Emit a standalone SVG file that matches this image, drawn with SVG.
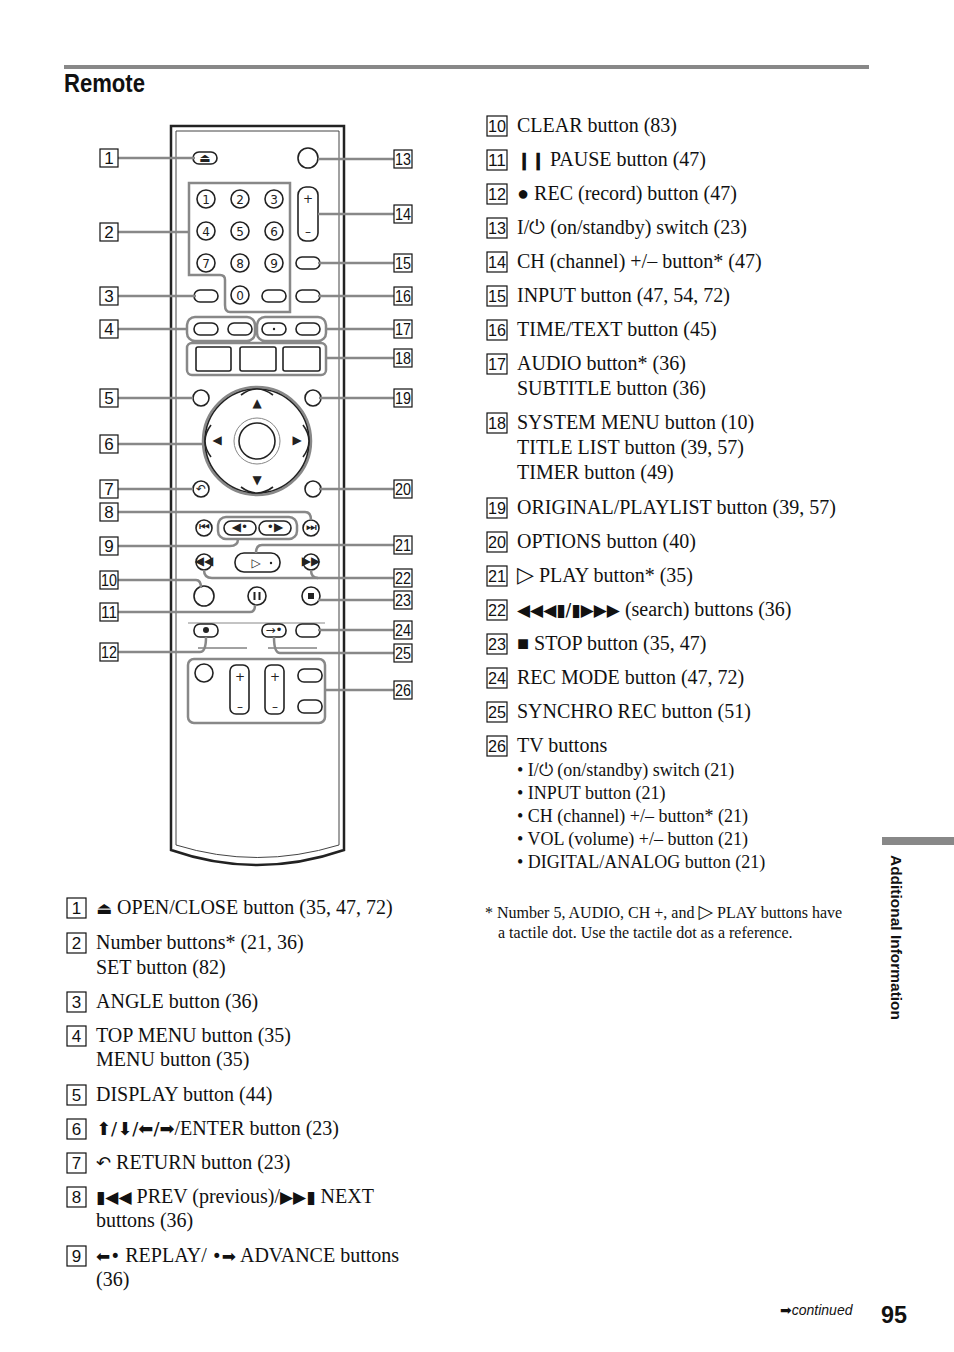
<svg xmlns="http://www.w3.org/2000/svg" width="954" height="1352" viewBox="0 0 954 1352">
<style>
.t{font-family:"Liberation Serif",serif;font-size:20px;fill:#111}
.s{font-family:"Liberation Serif",serif;font-size:18px;fill:#111}
.f{font-family:"Liberation Serif",serif;font-size:16px;fill:#111}
.nb{fill:#fff;stroke:#111;stroke-width:1.2}
.nt{font-family:"Liberation Sans",sans-serif;font-size:17px;fill:#111;text-anchor:middle}
.b{fill:#fff;stroke:#222;stroke-width:1.6}
.g{fill:none;stroke:#888;stroke-width:2.5}
.l{fill:none;stroke:#888;stroke-width:2.5}
.d{font-family:"DejaVu Sans",sans-serif;font-size:12px;fill:#222;text-anchor:middle}
</style>
<rect x="64" y="65" width="805" height="4" fill="#888"/>
<text x="64" y="92" font-family="Liberation Sans,sans-serif" font-weight="bold" font-size="25" fill="#111" textLength="81" lengthAdjust="spacingAndGlyphs">Remote</text>

<g id="remote">
<path d="M171,126 H344 V850 Q257,880 171,850 Z" fill="#fff" stroke="#222" stroke-width="2.5"/>
<path d="M176,131 H339 V845 Q257,870 176,845 Z" fill="none" stroke="#444" stroke-width="1"/>
<rect x="193" y="152" width="24" height="12" rx="6" class="b"/><text x="205" y="162" class="d" font-size="9">⏏</text>
<circle cx="308" cy="158" r="10" class="b"/>
<path d="M189,183 H290 V312 H230 Q225,312 225,305 V280 Q225,275 220,275 H189 Z" class="g"/>
<g class="d" font-size="13">
<circle cx="206" cy="199" r="9" class="b"/><text x="206" y="204">1</text>
<circle cx="240" cy="199" r="9" class="b"/><text x="240" y="204">2</text>
<circle cx="274" cy="199" r="9" class="b"/><text x="274" y="204">3</text>
<circle cx="206" cy="231" r="9" class="b"/><text x="206" y="236">4</text>
<circle cx="240" cy="231" r="9" class="b"/><text x="240" y="236">5</text>
<circle cx="274" cy="231" r="9" class="b"/><text x="274" y="236">6</text>
<circle cx="206" cy="263" r="9" class="b"/><text x="206" y="268">7</text>
<circle cx="240" cy="263" r="9" class="b"/><text x="240" y="268">8</text>
<circle cx="274" cy="263" r="9" class="b"/><text x="274" y="268">9</text>
<circle cx="240" cy="295" r="9" class="b"/><text x="240" y="300">0</text>
</g>
<rect x="298" y="187" width="20" height="54" rx="8" class="b"/>
<text x="308" y="203" class="d" font-size="14">+</text><text x="308" y="236" class="d" font-size="14">–</text>
<rect x="296" y="257" width="24" height="12" rx="6" class="b"/>
<rect x="296" y="290" width="24" height="12" rx="6" class="b"/>
<rect x="194" y="290" width="24" height="12" rx="6" class="b"/>
<rect x="262" y="290" width="24" height="12" rx="6" class="b"/>
<rect x="187" y="317" width="68" height="24" rx="8" class="g"/>
<rect x="257" y="317" width="69" height="24" rx="8" class="g"/>
<rect x="194" y="323" width="24" height="12" rx="6" class="b"/>
<rect x="228" y="323" width="24" height="12" rx="6" class="b"/>
<rect x="262" y="323" width="24" height="12" rx="6" class="b"/><circle cx="274" cy="329" r="1.2" fill="#222"/>
<rect x="296" y="323" width="24" height="12" rx="6" class="b"/>
<rect x="187" y="343" width="139" height="32" rx="5" class="g"/>
<rect x="196" y="347" width="35" height="24" rx="2" class="b"/>
<rect x="240" y="347" width="36" height="24" rx="2" class="b"/>
<rect x="283" y="347" width="37" height="24" rx="2" class="b"/>
<circle cx="201" cy="398" r="8" class="b"/>
<circle cx="313" cy="398" r="8" class="b"/>
<circle cx="257" cy="441" r="54" class="g"/>
<circle cx="257" cy="441" r="52" class="b"/>
<circle cx="257" cy="441" r="23" fill="none" stroke="#888" stroke-width="1"/>
<circle cx="257" cy="441" r="18" class="b"/>
<path d="M241,395 Q257,383 273,395" class="b"/><text x="257" y="407" class="d" font-size="8">▲</text>
<path d="M241,487 Q257,499 273,487" class="b"/><text x="257" y="484" class="d" font-size="8">▼</text>
<path d="M211,425 Q199,441 211,457" class="b"/><text x="217" y="444" class="d" font-size="8">◀</text>
<path d="M303,425 Q315,441 303,457" class="b"/><text x="297" y="444" class="d" font-size="8">▶</text>
<circle cx="201" cy="489" r="8" class="b"/><text x="201" y="493" class="d" font-size="10">↶</text>
<circle cx="313" cy="489" r="8" class="b"/>
<circle cx="204" cy="528" r="8" class="b"/><text x="204" y="531" class="d" font-size="7">⏮</text>
<circle cx="311" cy="528" r="8" class="b"/><text x="311" y="531" class="d" font-size="7">⏭</text>
<rect x="218" y="517" width="79" height="22" rx="8" class="g"/>
<rect x="224" y="521" width="32" height="14" rx="7" class="b"/><text x="240" y="531" class="d" font-size="8">◀•</text>
<rect x="259" y="521" width="32" height="14" rx="7" class="b"/><text x="275" y="531" class="d" font-size="8">•▶</text>
<rect x="235" y="553" width="45" height="19" rx="9" class="b"/><text x="256" y="567" class="d" font-size="13">▷</text><circle cx="271" cy="563" r="1.2" fill="#222"/>
<circle cx="204" cy="562" r="8" class="b"/><text x="204" y="565" class="d" font-size="7">◀◀</text>
<circle cx="311" cy="562" r="8" class="b"/><text x="311" y="565" class="d" font-size="7">▶▶</text>
<circle cx="204" cy="596" r="10" class="b"/>
<circle cx="257" cy="596" r="9" class="b"/><rect x="253.5" y="592" width="2" height="8" fill="#222"/><rect x="258.5" y="592" width="2" height="8" fill="#222"/>
<circle cx="311" cy="596" r="9" class="b"/><rect x="308" y="593" width="6" height="6" fill="#222"/>
<line x1="188" y1="623" x2="325" y2="623" stroke="#888" stroke-width="1"/>
<rect x="194" y="624" width="24" height="13" rx="6" class="b"/><circle cx="206" cy="630" r="3" fill="#222"/>
<rect x="262" y="624" width="24" height="13" rx="6" class="b"/><text x="274" y="634" class="d" font-size="9">→•</text>
<rect x="296" y="624" width="24" height="13" rx="6" class="b"/>
<line x1="198" y1="648" x2="247" y2="648" stroke="#444" stroke-width="1"/>
<line x1="268" y1="648" x2="317" y2="648" stroke="#444" stroke-width="1"/>
<rect x="188" y="659" width="137" height="64" rx="6" class="g"/>
<circle cx="204" cy="673" r="9" class="b"/>
<rect x="230" y="665" width="19" height="49" rx="6" class="b"/><text x="240" y="681" class="d" font-size="14">+</text><text x="240" y="711" class="d" font-size="14">–</text>
<rect x="265" y="665" width="19" height="49" rx="6" class="b"/><text x="275" y="681" class="d" font-size="14">+</text><text x="275" y="711" class="d" font-size="14">–</text>
<rect x="298" y="669" width="24" height="13" rx="6" class="b"/>
<rect x="298" y="700" width="24" height="13" rx="6" class="b"/>
</g>

<g id="connectors" class="l">
<line x1="118" y1="158" x2="195" y2="158"/>
<line x1="118" y1="232" x2="189" y2="232"/>
<line x1="118" y1="296" x2="196" y2="296"/>
<line x1="118" y1="329" x2="187" y2="329"/>
<line x1="118" y1="398" x2="193" y2="398"/>
<line x1="118" y1="444" x2="203" y2="444"/>
<line x1="118" y1="489" x2="193" y2="489"/>
<path d="M118,512 H305 Q311,512 311,520"/>
<path d="M118,546 H230 Q238,546 238,539"/>
<path d="M118,580 H196 Q201,580 201,588"/>
<path d="M118,612 H250 Q255,612 255,605"/>
<path d="M118,652 H200 Q206,652 206,637"/>
<line x1="318" y1="159" x2="394" y2="159"/>
<line x1="318" y1="214" x2="394" y2="214"/>
<line x1="318" y1="263" x2="394" y2="263"/>
<line x1="318" y1="296" x2="394" y2="296"/>
<line x1="326" y1="329" x2="394" y2="329"/>
<line x1="326" y1="358" x2="394" y2="358"/>
<line x1="319" y1="398" x2="394" y2="398"/>
<line x1="319" y1="489" x2="394" y2="489"/>
<path d="M394,545 H262 Q256,545 256,553"/>
<path d="M394,578 H212 Q204,578 204,570"/>
<path d="M311,570 Q311,578 318,578"/>
<line x1="318" y1="600" x2="394" y2="600"/>
<line x1="318" y1="630" x2="394" y2="630"/>
<path d="M394,653 H280 Q274,653 274,637"/>
<line x1="325" y1="690" x2="394" y2="690"/>
</g>

<g id="labels">
<rect x="100" y="149" width="18" height="18" class="nb"/><text x="109" y="164" class="nt">1</text>
<rect x="100" y="223" width="18" height="18" class="nb"/><text x="109" y="238" class="nt">2</text>
<rect x="100" y="287" width="18" height="18" class="nb"/><text x="109" y="302" class="nt">3</text>
<rect x="100" y="320" width="18" height="18" class="nb"/><text x="109" y="335" class="nt">4</text>
<rect x="100" y="389" width="18" height="18" class="nb"/><text x="109" y="404" class="nt">5</text>
<rect x="100" y="435" width="18" height="18" class="nb"/><text x="109" y="450" class="nt">6</text>
<rect x="100" y="480" width="18" height="18" class="nb"/><text x="109" y="495" class="nt">7</text>
<rect x="100" y="503" width="18" height="18" class="nb"/><text x="109" y="518" class="nt">8</text>
<rect x="100" y="537" width="18" height="18" class="nb"/><text x="109" y="552" class="nt">9</text>
<rect x="100" y="571" width="18" height="18" class="nb"/><text x="109" y="586" class="nt" textLength="16" lengthAdjust="spacingAndGlyphs">10</text>
<rect x="100" y="603" width="18" height="18" class="nb"/><text x="109" y="618" class="nt" textLength="16" lengthAdjust="spacingAndGlyphs">11</text>
<rect x="100" y="643" width="18" height="18" class="nb"/><text x="109" y="658" class="nt" textLength="16" lengthAdjust="spacingAndGlyphs">12</text>
<g class="nt">
<rect x="394" y="150" width="18" height="18" class="nb"/><text x="403" y="165" textLength="16" lengthAdjust="spacingAndGlyphs">13</text>
<rect x="394" y="205" width="18" height="18" class="nb"/><text x="403" y="220" textLength="16" lengthAdjust="spacingAndGlyphs">14</text>
<rect x="394" y="254" width="18" height="18" class="nb"/><text x="403" y="269" textLength="16" lengthAdjust="spacingAndGlyphs">15</text>
<rect x="394" y="287" width="18" height="18" class="nb"/><text x="403" y="302" textLength="16" lengthAdjust="spacingAndGlyphs">16</text>
<rect x="394" y="320" width="18" height="18" class="nb"/><text x="403" y="335" textLength="16" lengthAdjust="spacingAndGlyphs">17</text>
<rect x="394" y="349" width="18" height="18" class="nb"/><text x="403" y="364" textLength="16" lengthAdjust="spacingAndGlyphs">18</text>
<rect x="394" y="389" width="18" height="18" class="nb"/><text x="403" y="404" textLength="16" lengthAdjust="spacingAndGlyphs">19</text>
<rect x="394" y="480" width="18" height="18" class="nb"/><text x="403" y="495" textLength="16" lengthAdjust="spacingAndGlyphs">20</text>
<rect x="394" y="536" width="18" height="18" class="nb"/><text x="403" y="551" textLength="16" lengthAdjust="spacingAndGlyphs">21</text>
<rect x="394" y="569" width="18" height="18" class="nb"/><text x="403" y="584" textLength="16" lengthAdjust="spacingAndGlyphs">22</text>
<rect x="394" y="591" width="18" height="18" class="nb"/><text x="403" y="606" textLength="16" lengthAdjust="spacingAndGlyphs">23</text>
<rect x="394" y="621" width="18" height="18" class="nb"/><text x="403" y="636" textLength="16" lengthAdjust="spacingAndGlyphs">24</text>
<rect x="394" y="644" width="18" height="18" class="nb"/><text x="403" y="659" textLength="16" lengthAdjust="spacingAndGlyphs">25</text>
<rect x="394" y="681" width="18" height="18" class="nb"/><text x="403" y="696" textLength="16" lengthAdjust="spacingAndGlyphs">26</text>
</g>
</g>

<g id="right-list">
<g class="nt">
<rect x="487" y="116" width="20" height="20" class="nb"/><text x="497" y="132" textLength="18" lengthAdjust="spacingAndGlyphs">10</text>
<rect x="487" y="150" width="20" height="20" class="nb"/><text x="497" y="166" textLength="18" lengthAdjust="spacingAndGlyphs">11</text>
<rect x="487" y="184" width="20" height="20" class="nb"/><text x="497" y="200" textLength="18" lengthAdjust="spacingAndGlyphs">12</text>
<rect x="487" y="218" width="20" height="20" class="nb"/><text x="497" y="234" textLength="18" lengthAdjust="spacingAndGlyphs">13</text>
<rect x="487" y="252" width="20" height="20" class="nb"/><text x="497" y="268" textLength="18" lengthAdjust="spacingAndGlyphs">14</text>
<rect x="487" y="286" width="20" height="20" class="nb"/><text x="497" y="302" textLength="18" lengthAdjust="spacingAndGlyphs">15</text>
<rect x="487" y="320" width="20" height="20" class="nb"/><text x="497" y="336" textLength="18" lengthAdjust="spacingAndGlyphs">16</text>
<rect x="487" y="354" width="20" height="20" class="nb"/><text x="497" y="370" textLength="18" lengthAdjust="spacingAndGlyphs">17</text>
<rect x="487" y="413" width="20" height="20" class="nb"/><text x="497" y="429" textLength="18" lengthAdjust="spacingAndGlyphs">18</text>
<rect x="487" y="498" width="20" height="20" class="nb"/><text x="497" y="514" textLength="18" lengthAdjust="spacingAndGlyphs">19</text>
<rect x="487" y="532" width="20" height="20" class="nb"/><text x="497" y="548" textLength="18" lengthAdjust="spacingAndGlyphs">20</text>
<rect x="487" y="566" width="20" height="20" class="nb"/><text x="497" y="582" textLength="18" lengthAdjust="spacingAndGlyphs">21</text>
<rect x="487" y="600" width="20" height="20" class="nb"/><text x="497" y="616" textLength="18" lengthAdjust="spacingAndGlyphs">22</text>
<rect x="487" y="634" width="20" height="20" class="nb"/><text x="497" y="650" textLength="18" lengthAdjust="spacingAndGlyphs">23</text>
<rect x="487" y="668" width="20" height="20" class="nb"/><text x="497" y="684" textLength="18" lengthAdjust="spacingAndGlyphs">24</text>
<rect x="487" y="702" width="20" height="20" class="nb"/><text x="497" y="718" textLength="18" lengthAdjust="spacingAndGlyphs">25</text>
<rect x="487" y="736" width="20" height="20" class="nb"/><text x="497" y="752" textLength="18" lengthAdjust="spacingAndGlyphs">26</text>
</g>
<text x="517" y="132" class="t">CLEAR button (83)</text>
<text x="517" y="166" class="t"><tspan font-family="Liberation Sans" font-weight="bold" font-size="17">❙❙</tspan> PAUSE button (47)</text>
<text x="517" y="200" class="t">● REC (record) button (47)</text>
<text x="517" y="234" class="t">I/<tspan font-family="DejaVu Sans">⏻</tspan> (on/standby) switch (23)</text>
<text x="517" y="268" class="t">CH (channel) +/– button* (47)</text>
<text x="517" y="302" class="t">INPUT button (47, 54, 72)</text>
<text x="517" y="336" class="t">TIME/TEXT button (45)</text>
<text x="517" y="370" class="t">AUDIO button* (36)</text><text x="517" y="395" class="t">SUBTITLE button (36)</text>
<text x="517" y="429" class="t">SYSTEM MENU button (10)</text><text x="517" y="454" class="t">TITLE LIST button (39, 57)</text><text x="517" y="479" class="t">TIMER button (49)</text>
<text x="517" y="514" class="t">ORIGINAL/PLAYLIST button (39, 57)</text>
<text x="517" y="548" class="t">OPTIONS button (40)</text>
<text x="517" y="582" class="t"><tspan font-family="DejaVu Sans" font-size="22">▷</tspan> PLAY button* (35)</text>
<text x="517" y="616" class="t"><tspan font-family="DejaVu Sans" font-size="17">◀◀◀▮/▮▶▶▶</tspan> (search) buttons (36)</text>
<text x="517" y="650" class="t">■ STOP button (35, 47)</text>
<text x="517" y="684" class="t">REC MODE button (47, 72)</text>
<text x="517" y="718" class="t">SYNCHRO REC button (51)</text>
<text x="517" y="752" class="t">TV buttons</text>
<text x="517" y="776" class="s">• I/<tspan font-family="DejaVu Sans">⏻</tspan> (on/standby) switch (21)</text>
<text x="517" y="799" class="s">• INPUT button (21)</text>
<text x="517" y="822" class="s">• CH (channel) +/– button* (21)</text>
<text x="517" y="845" class="s">• VOL (volume) +/– button (21)</text>
<text x="517" y="868" class="s">• DIGITAL/ANALOG button (21)</text>
<text x="485" y="918" class="f">* Number 5, AUDIO, CH +, and <tspan font-family="DejaVu Sans" font-size="19">▷</tspan> PLAY buttons have</text>
<text x="498" y="938" class="f">a tactile dot. Use the tactile dot as a reference.</text>
</g>

<g id="left-list">
<g class="nt">
<rect x="67" y="898" width="19" height="20" class="nb"/><text x="76.5" y="914">1</text>
<rect x="67" y="933" width="19" height="20" class="nb"/><text x="76.5" y="949">2</text>
<rect x="67" y="992" width="19" height="20" class="nb"/><text x="76.5" y="1008">3</text>
<rect x="67" y="1026" width="19" height="20" class="nb"/><text x="76.5" y="1042">4</text>
<rect x="67" y="1085" width="19" height="20" class="nb"/><text x="76.5" y="1101">5</text>
<rect x="67" y="1119" width="19" height="20" class="nb"/><text x="76.5" y="1135">6</text>
<rect x="67" y="1153" width="19" height="20" class="nb"/><text x="76.5" y="1169">7</text>
<rect x="67" y="1187" width="19" height="20" class="nb"/><text x="76.5" y="1203">8</text>
<rect x="67" y="1246" width="19" height="20" class="nb"/><text x="76.5" y="1262">9</text>
</g>
<text x="96" y="914" class="t"><tspan font-family="DejaVu Sans" font-size="17">⏏</tspan> OPEN/CLOSE button (35, 47, 72)</text>
<text x="96" y="949" class="t">Number buttons* (21, 36)</text><text x="96" y="974" class="t">SET button (82)</text>
<text x="96" y="1008" class="t">ANGLE button (36)</text>
<text x="96" y="1042" class="t">TOP MENU button (35)</text><text x="96" y="1066" class="t">MENU button (35)</text>
<text x="96" y="1101" class="t">DISPLAY button (44)</text>
<text x="96" y="1135" class="t"><tspan font-family="DejaVu Sans" font-size="18">⬆/⬇/⬅/➡</tspan>/ENTER button (23)</text>
<text x="96" y="1169" class="t"><tspan font-family="DejaVu Sans" font-size="18">↶</tspan> RETURN button (23)</text>
<text x="96" y="1203" class="t"><tspan font-family="DejaVu Sans" font-size="17">▮◀◀</tspan> PREV (previous)/<tspan font-family="DejaVu Sans" font-size="17">▶▶▮</tspan> NEXT</text><text x="96" y="1227" class="t">buttons (36)</text>
<text x="96" y="1262" class="t"><tspan font-family="DejaVu Sans" font-size="17">⬅•</tspan> REPLAY/ <tspan font-family="DejaVu Sans" font-size="17">•➡</tspan> ADVANCE buttons</text><text x="96" y="1286" class="t">(36)</text>
</g>

<rect x="882" y="837" width="72" height="8" fill="#888"/>
<text transform="translate(891,855) rotate(90)" font-family="Liberation Sans,sans-serif" font-weight="bold" font-size="14" fill="#111" textLength="165" lengthAdjust="spacingAndGlyphs">Additional Information</text>
<text x="780" y="1315" font-family="Liberation Sans,sans-serif" font-style="italic" font-size="14" fill="#111"><tspan font-family="DejaVu Sans" font-style="normal">➡</tspan>continued</text>
<text x="881" y="1323" font-family="Liberation Sans,sans-serif" font-weight="bold" font-size="24" fill="#111" textLength="26" lengthAdjust="spacingAndGlyphs">95</text>
</svg>
